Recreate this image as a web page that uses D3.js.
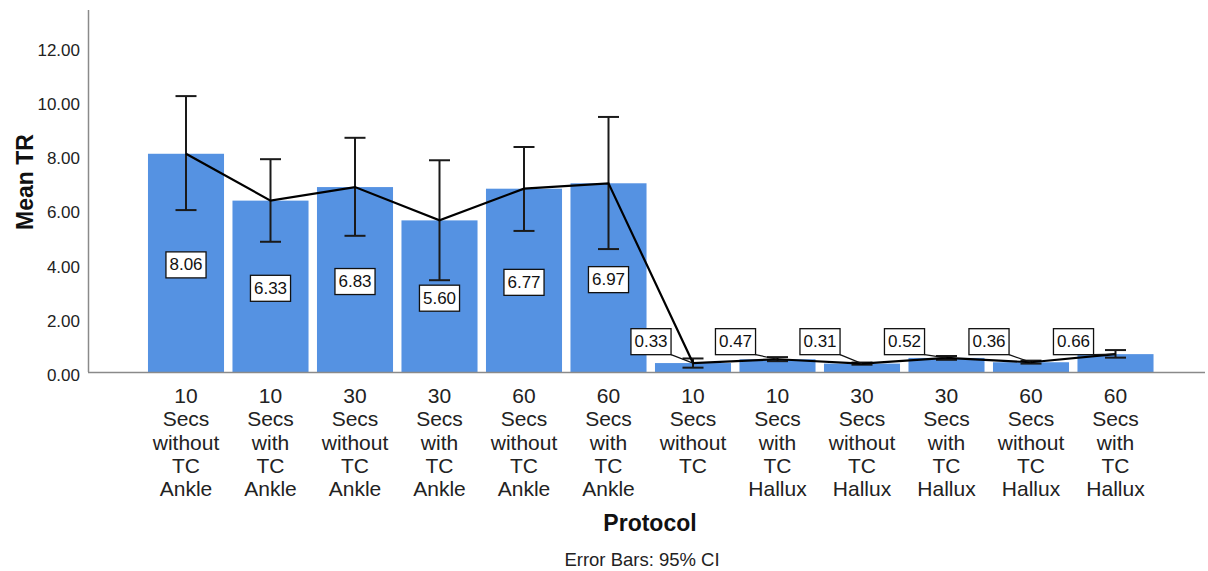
<!DOCTYPE html>
<html>
<head>
<meta charset="utf-8">
<script src="https://cdn.jsdelivr.net/npm/d3@7"></script>
<style>
  html, body { margin: 0; padding: 0; background: #fff; }
  svg { display: block; font-family: Arial, "Liberation Sans", sans-serif; }
</style>
</head>
<body>
<svg id="chart" width="1208" height="571"></svg>
<script>
// Protocol categories (each word is drawn on its own line)
const categories = [
  "10 Secs without TC Ankle",
  "10 Secs with TC Ankle",
  "30 Secs without TC Ankle",
  "30 Secs with TC Ankle",
  "60 Secs without TC Ankle",
  "60 Secs with TC Ankle",
  "10 Secs without TC",
  "10 Secs with TC Hallux",
  "30 Secs without TC Hallux",
  "30 Secs with TC Hallux",
  "60 Secs without TC Hallux",
  "60 Secs with TC Hallux"
];
// Mean TR per protocol
const meanTR = [8.06, 6.33, 6.83, 5.60, 6.77, 6.97, 0.33, 0.47, 0.31, 0.52, 0.36, 0.66];
// 95% confidence interval bounds
const ciLower = [5.98, 4.81, 5.03, 3.39, 5.21, 4.54, 0.16, 0.40, 0.27, 0.45, 0.31, 0.53];
const ciUpper = [10.19, 7.86, 8.65, 7.82, 8.31, 9.42, 0.50, 0.55, 0.35, 0.59, 0.42, 0.81];
// Y axis ticks
const yTicks = [0, 2, 4, 6, 8, 10, 12];

const data = categories.map((c, i) => ({
  cat: c, mean: meanTR[i], lo: ciLower[i], hi: ciUpper[i]
}));

const svg = d3.select("#chart");
const barColor = "#5592e2";
const axisColor = "#8a8a8a";
const inkColor = "#1a1a1a";

const x = d3.scaleBand()
  .domain(categories)
  .range([143.75, 1157.75])
  .paddingInner(0.1)
  .paddingOuter(0.05);

const y = d3.scaleLinear()
  .domain([0, 13.37])
  .range([372, 10]);

const cx = d => x(d.cat) + x.bandwidth() / 2;

// Bars
svg.append("g").selectAll("rect")
  .data(data)
  .join("rect")
  .attr("x", d => x(d.cat))
  .attr("y", d => y(d.mean))
  .attr("width", x.bandwidth())
  .attr("height", d => y(0) - y(d.mean))
  .attr("fill", barColor);

// Axes lines
svg.append("line")
  .attr("x1", 88.5).attr("x2", 88.5)
  .attr("y1", 10).attr("y2", y(0))
  .attr("stroke", axisColor).attr("stroke-width", 1.5);
svg.append("line")
  .attr("x1", 88).attr("x2", 1205)
  .attr("y1", y(0) + 0.5).attr("y2", y(0) + 0.5)
  .attr("stroke", axisColor).attr("stroke-width", 1.5);

// Y tick labels
const yAxis = d3.axisLeft(y)
  .tickValues(yTicks)
  .tickFormat(d3.format(".2f"))
  .tickSize(0)
  .tickPadding(0);
const gy = svg.append("g")
  .attr("transform", "translate(80,3)")
  .call(yAxis);
gy.select(".domain").remove();
gy.selectAll("text")
  .attr("font-size", 17)
  .attr("fill", "#222")
  .attr("font-family", "Arial, 'Liberation Sans', sans-serif");

// Y axis title
svg.append("text")
  .attr("transform", "translate(33,182) rotate(-90)")
  .attr("text-anchor", "middle")
  .attr("font-size", 23)
  .attr("font-weight", "bold")
  .attr("fill", "#111")
  .text("Mean TR");

// X tick labels, one word per line
const xLab = svg.append("g").selectAll("text")
  .data(data)
  .join("text")
  .attr("text-anchor", "middle")
  .attr("font-size", 21)
  .attr("fill", "#222");
xLab.each(function(d) {
  const t = d3.select(this);
  d.cat.split(" ").forEach((w, i) => {
    t.append("tspan")
      .attr("x", cx(d))
      .attr("y", 403 + i * 23.3)
      .text(w);
  });
});

// X axis title and footnote
svg.append("text")
  .attr("x", 650).attr("y", 531)
  .attr("text-anchor", "middle")
  .attr("font-size", 23)
  .attr("font-weight", "bold")
  .attr("fill", "#111")
  .text("Protocol");
svg.append("text")
  .attr("x", 642).attr("y", 566)
  .attr("text-anchor", "middle")
  .attr("font-size", 18.5)
  .attr("fill", "#222")
  .text("Error Bars: 95% CI");

// Error bars
const capW = 21;
const eb = svg.append("g")
  .attr("stroke", inkColor)
  .attr("stroke-width", 2);
eb.selectAll(".stem")
  .data(data).join("line")
  .attr("x1", cx).attr("x2", cx)
  .attr("y1", d => y(d.hi)).attr("y2", d => y(d.lo));
eb.selectAll(".capTop")
  .data(data).join("line")
  .attr("x1", d => cx(d) - capW / 2).attr("x2", d => cx(d) + capW / 2)
  .attr("y1", d => y(d.hi)).attr("y2", d => y(d.hi));
eb.selectAll(".capBot")
  .data(data).join("line")
  .attr("x1", d => cx(d) - capW / 2).attr("x2", d => cx(d) + capW / 2)
  .attr("y1", d => y(d.lo)).attr("y2", d => y(d.lo));

// Line through the means
svg.append("path")
  .datum(data)
  .attr("fill", "none")
  .attr("stroke", "#000")
  .attr("stroke-width", 2.2)
  .attr("d", d3.line().x(cx).y(d => y(d.mean)));

// Value labels: centred inside tall bars, above-left with a leader for short ones
const fmt = d3.format(".2f");
const labG = svg.append("g");
data.forEach(d => {
  const inside = d.mean > 2;
  const bx = inside ? cx(d) : cx(d) - 42;
  const by = inside ? y(d.mean / 2) + 2 : y(1.12);
  const g = labG.append("g");
  const txt = g.append("text")
    .attr("x", bx).attr("y", by)
    .attr("text-anchor", "middle")
    .attr("dominant-baseline", "central")
    .attr("font-size", 17)
    .attr("fill", "#111")
    .text(fmt(d.mean));
  const w = txt.node().getComputedTextLength() + 7;
  const h = 26;
  if (!inside) {
    g.insert("line", "text")
      .attr("x1", bx + w / 2).attr("y1", by + h / 2)
      .attr("x2", cx(d)).attr("y2", y(d.mean))
      .attr("stroke", "#111").attr("stroke-width", 1.2);
  }
  g.insert("rect", "text")
    .attr("x", bx - w / 2).attr("y", by - h / 2)
    .attr("width", w).attr("height", h)
    .attr("fill", "#fff")
    .attr("stroke", "#111")
    .attr("stroke-width", 1.3);
});
</script>
</body>
</html>
